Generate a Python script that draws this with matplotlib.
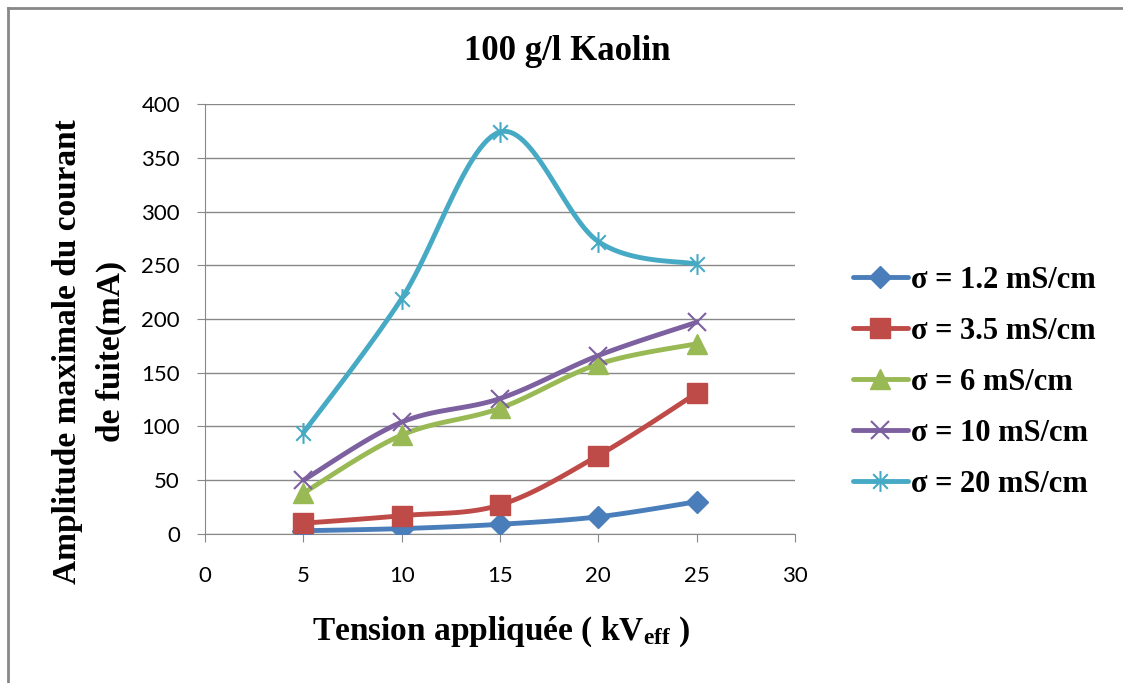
import matplotlib.pyplot as plt
import numpy as np
from matplotlib.path import Path
from matplotlib.lines import Line2D

plt.rcParams['mathtext.fontset'] = 'custom'
plt.rcParams['mathtext.rm'] = 'Liberation Serif:bold'
plt.rcParams['mathtext.it'] = 'Liberation Serif:bold'
plt.rcParams['mathtext.bf'] = 'Liberation Serif:bold'

tension = [5, 10, 15, 20, 25]
i_12 = [3, 5, 9, 16, 30]
i_35 = [10, 17, 27, 73, 131]
i_6 = [38, 92, 117, 158, 177]
i_10 = [50, 104, 126, 166, 197]
i_20 = [94, 219, 374, 272, 251]
labels = ["σ = 1.2 mS/cm", "σ = 3.5 mS/cm", "σ = 6 mS/cm", "σ = 10 mS/cm", "σ = 20 mS/cm"]
couleurs = ["#4A7EBB", "#BE4B48", "#98B954", "#7D60A0", "#46AAC5"]

# asterisk marker like excel (x + vertical bar)
etoile = Path([(0, -1), (0, 1), (-0.7, -0.7), (0.7, 0.7), (-0.7, 0.7), (0.7, -0.7)],
              [Path.MOVETO, Path.LINETO, Path.MOVETO, Path.LINETO, Path.MOVETO, Path.LINETO])
marqueurs = ["D", "s", "^", "x", etoile]
tailles = [11, 14, 14, 13, 15]


def lissage(x, y, n=30):
    # smooth curve through the points (catmull-rom, like excel)
    x = np.asarray(x, float)
    y = np.asarray(y, float)
    px = np.concatenate([[x[0]], x, [x[-1]]])
    py = np.concatenate([[y[0]], y, [y[-1]]])
    xs, ys = [], []
    for k in range(1, len(px) - 2):
        p0 = np.array([px[k], py[k]])
        p3 = np.array([px[k + 1], py[k + 1]])
        c1 = p0 + (np.array([px[k + 1], py[k + 1]]) - np.array([px[k - 1], py[k - 1]])) / 6
        c2 = p3 - (np.array([px[k + 2], py[k + 2]]) - np.array([px[k], py[k]])) / 6
        t = np.linspace(0, 1, n)[:, None]
        b = (1 - t) ** 3 * p0 + 3 * (1 - t) ** 2 * t * c1 + 3 * (1 - t) * t ** 2 * c2 + t ** 3 * p3
        xs.extend(b[:, 0])
        ys.extend(b[:, 1])
    return xs, ys


fig = plt.figure(figsize=(11.23, 6.83), dpi=100)
ax = fig.add_axes([0.1825, 0.2182, 0.5255, 0.6295])

series = [i_12, i_35, i_6, i_10, i_20]
handles = []
for s, c, m, t, lab in zip(series, couleurs, marqueurs, tailles, labels):
    xs, ys = lissage(tension, s)
    ax.plot(xs, ys, color=c, lw=3.5, solid_capstyle='round', zorder=3)
    mew = 1.5 if m in ("x",) or m is etoile else 1
    ax.plot(tension, s, ls='none', marker=m, ms=t, color=c, mec=c, mew=mew, zorder=4)
    handles.append(Line2D([0], [0], color=c, lw=3.5, marker=m, ms=t, mec=c, mew=mew,
                          solid_capstyle='round'))

ax.set_xlim(0, 30)
ax.set_ylim(0, 400)
ax.set_xticks(np.arange(0, 31, 5))
ax.set_yticks(np.arange(0, 401, 50))
ax.yaxis.grid(True, color='#888888', lw=1)
ax.set_axisbelow(True)
for sp in ['top', 'right']:
    ax.spines[sp].set_visible(False)
for sp in ['left', 'bottom']:
    ax.spines[sp].set_color('#888888')
ax.tick_params(axis='both', colors='#888888', length=6, labelcolor='black', labelsize=16)
ax.tick_params(axis='x', pad=17)
ax.tick_params(axis='y', pad=12)
for lab in ax.get_xticklabels() + ax.get_yticklabels():
    lab.set_fontfamily('Lato')

fig.text(0.505, 0.924, "100 g/l Kaolin", ha='center', va='center',
         family='Liberation Serif', weight='bold', fontsize=25)
fig.text(0.060, 0.485, "Amplitude maximale du courant", rotation=90, ha='center', va='center',
         family='Liberation Serif', weight='bold', fontsize=24)
fig.text(0.099, 0.485, "de fuite(mA)", rotation=90, ha='center', va='center',
         family='Liberation Serif', weight='bold', fontsize=24)
fig.text(0.446, 0.075, r"Tension appliquée ( kV$_{\mathrm{eff}}$ )", ha='center', va='center',
         family='Liberation Serif', weight='bold', fontsize=24)

fig.legend(handles, labels, loc='center left', bbox_to_anchor=(0.735, 0.44), frameon=False,
           prop={'family': 'Liberation Serif', 'weight': 'bold', 'size': 22},
           handlelength=1.8, handletextpad=0.1, labelspacing=0.72)

# chart area border
fig.add_artist(Line2D([0.007, 0.007], [0, 0.988], color='#888888', lw=2, transform=fig.transFigure))
fig.add_artist(Line2D([0.007, 1], [0.988, 0.988], color='#888888', lw=2, transform=fig.transFigure))

fig.savefig("out.png", dpi=100)
